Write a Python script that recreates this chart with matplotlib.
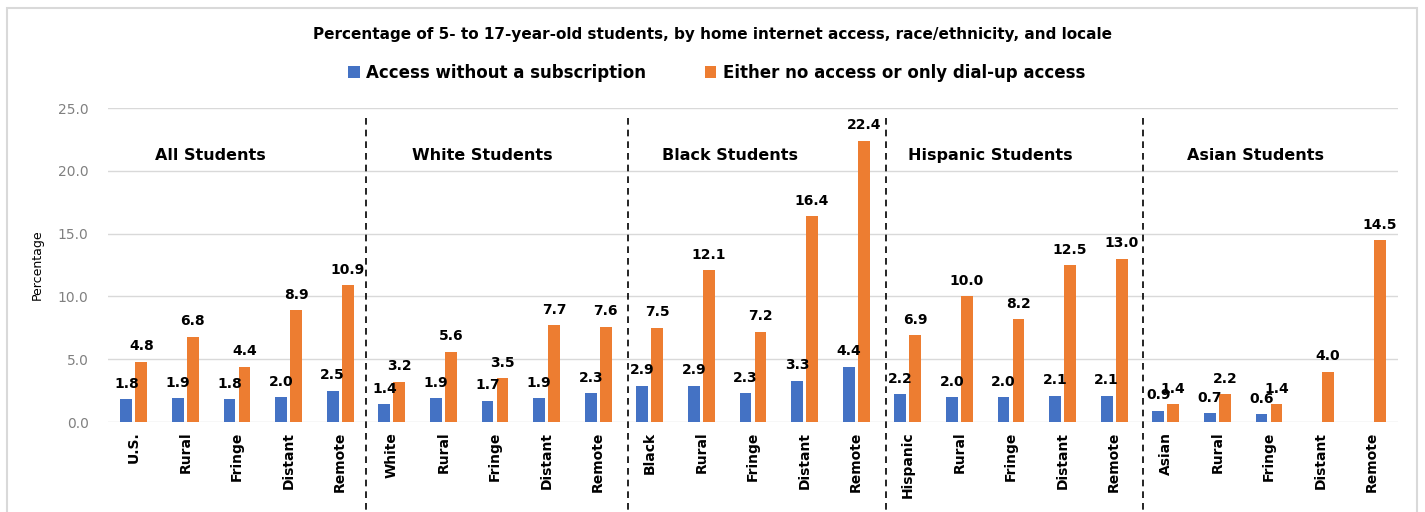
import matplotlib
matplotlib.use("Agg")
import matplotlib.pyplot as plt
import numpy as np
from matplotlib.patches import Rectangle

categories = ["U.S.", "Rural", "Fringe", "Distant", "Remote",
              "White", "Rural", "Fringe", "Distant", "Remote",
              "Black", "Rural", "Fringe", "Distant", "Remote",
              "Hispanic", "Rural", "Fringe", "Distant", "Remote",
              "Asian", "Rural", "Fringe", "Distant", "Remote"]
no_subscription = [1.8, 1.9, 1.8, 2.0, 2.5,
                   1.4, 1.9, 1.7, 1.9, 2.3,
                   2.9, 2.9, 2.3, 3.3, 4.4,
                   2.2, 2.0, 2.0, 2.1, 2.1,
                   0.9, 0.7, 0.6, None, None]
no_access = [4.8, 6.8, 4.4, 8.9, 10.9,
             3.2, 5.6, 3.5, 7.7, 7.6,
             7.5, 12.1, 7.2, 16.4, 22.4,
             6.9, 10.0, 8.2, 12.5, 13.0,
             1.4, 2.2, 1.4, 4.0, 14.5]
groups = ["All Students", "White Students", "Black Students", "Hispanic Students", "Asian Students"]
group_label_x = [1.48, 6.75, 11.55, 16.6, 21.73]
dividers = [4.5, 9.58, 14.58, 19.55]

BLUE = "#4472C4"
ORANGE = "#ED7D31"

fig = plt.figure(figsize=(14.25, 5.12), dpi=100)
ax = fig.add_axes([108/1425, 90/512, 1290/1425, 314/512])

x = np.arange(len(categories))
w = 0.23
off = 0.145
bx = [xi - off for xi, v in zip(x, no_subscription) if v is not None]
bv = [v for v in no_subscription if v is not None]
b1 = ax.bar(bx, bv, w, color=BLUE, label="Access without a subscription", zorder=3)
b2 = ax.bar(x + off, no_access, w, color=ORANGE, label="Either no access or only dial-up access", zorder=3)

for xi, v in zip(bx, bv):
    ax.annotate(f"{v:.1f}", (xi, v), xytext=(0, 6), textcoords="offset points",
                ha="center", va="bottom", fontsize=10, fontweight="bold", zorder=4)
for xi, v in zip(x + off, no_access):
    ax.annotate(f"{v:.1f}", (xi, v), xytext=(0, 6), textcoords="offset points",
                ha="center", va="bottom", fontsize=10, fontweight="bold", zorder=4)

ax.set_xlim(-0.5, len(categories) - 0.5)
ax.set_ylim(0, 25)
ax.set_yticks(np.arange(0, 25.1, 5))
ax.set_yticklabels([f"{t:.1f}" for t in np.arange(0, 25.1, 5)], color="#808080", fontsize=10)
ax.yaxis.grid(True, color="#d9d9d9", linewidth=1, zorder=0)
ax.set_axisbelow(True)
for s in ax.spines.values():
    s.set_visible(False)
ax.tick_params(axis="both", length=0)
ax.tick_params(axis="y", pad=14)
ax.set_xticks(x)
ax.set_xticklabels(categories, rotation=90, fontsize=10, fontweight="bold")
ax.tick_params(axis="x", pad=7)
ax.set_ylabel("Percentage", fontsize=9, labelpad=10)

for gx, g in zip(group_label_x, groups):
    ax.text(gx, 21.2, g, ha="center", va="center", fontsize=11.5, fontweight="bold")

for d in dividers:
    ax.plot([d, d], [24.2, -7.3], color="black", linestyle=(0, (4, 3)), linewidth=1.2,
            clip_on=False, zorder=5)

fig.text(0.5, 1 - 35/512, "Percentage of 5- to 17-year-old students, by home internet access, race/ethnicity, and locale",
         ha="center", va="center", fontsize=11, fontweight="bold")
fig.legend(handles=[b1, b2], loc="center", bbox_to_anchor=(0.503, 1 - 73/512), ncol=2,
           frameon=False, prop={"weight": "bold", "size": 12},
           handlelength=0.7, handleheight=0.7, columnspacing=3.5, handletextpad=0.4)

fig.patches.append(Rectangle((7/1425, -0.05), 1410/1425, 1.05 - 8/512, transform=fig.transFigure,
                             fill=False, edgecolor="#d9d9d9", linewidth=1.5))

fig.savefig("out.png", dpi=100)
